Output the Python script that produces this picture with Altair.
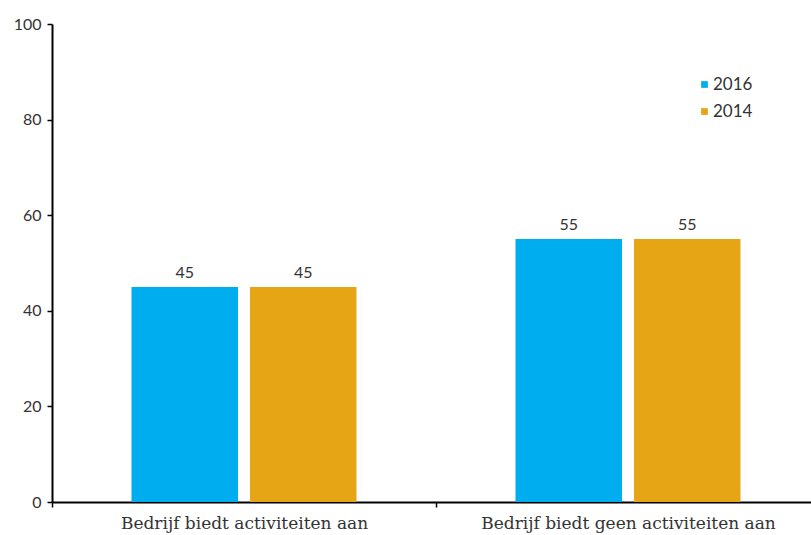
import altair as alt
import pandas as pd

categories = ["Bedrijf biedt activiteiten aan", "Bedrijf biedt geen activiteiten aan"]
years = ["2016", "2014"]
values_2016 = [45, 55]
values_2014 = [45, 55]

rows = []
for i, cat in enumerate(categories):
    rows.append({"categorie": cat, "jaar": "2016", "waarde": values_2016[i]})
    rows.append({"categorie": cat, "jaar": "2014", "waarde": values_2014[i]})
df = pd.DataFrame(rows)

colors = ["#00AEEF", "#E6A514"]

x = alt.X(
    "categorie:N",
    sort=categories,
    title=None,
    scale=alt.Scale(range=[0, 768], paddingInner=0, paddingOuter=0),
    axis=alt.Axis(
        labelAngle=0,
        labelFont="DejaVu Serif",
        labelFontSize=17,
        labelLimit=0,
        labelColor="#333333",
        labelPadding=8,
        domainColor="#000000",
        domainWidth=2,
        tickColor="#000000",
        tickWidth=1.5,
        tickSize=5,
        tickBand="extent",
    ),
)
xoff = alt.XOffset(
    "jaar:N", sort=years, scale=alt.Scale(paddingInner=0.1013, paddingOuter=0.671)
)
y = alt.Y(
    "waarde:Q",
    title=None,
    scale=alt.Scale(domain=[0, 100]),
    axis=alt.Axis(
        values=[0, 20, 40, 60, 80, 100],
        grid=False,
        labelFont="Lato",
        labelFontSize=16,
        labelColor="#333333",
        labelPadding=6,
        domainColor="#000000",
        domainWidth=2,
        tickColor="#000000",
        tickWidth=1.5,
        tickSize=5,
    ),
)

bars = alt.Chart(df).mark_bar().encode(
    x=x,
    xOffset=xoff,
    y=y,
    color=alt.Color(
        "jaar:N",
        sort=years,
        scale=alt.Scale(domain=years, range=colors),
        legend=alt.Legend(
            title=None,
            orient="none",
            legendX=644,
            legendY=52,
            symbolType="square",
            symbolSize=45,
            labelFont="Lato",
            labelFontSize=17,
            labelColor="#333333",
            rowPadding=9,
            symbolOffset=0,
            labelOffset=0,
        ),
    ),
)

labels = alt.Chart(df).mark_text(
    dy=-14, font="Lato", fontSize=16, color="#333333"
).encode(
    x=alt.X("categorie:N", sort=categories),
    xOffset=alt.XOffset("jaar:N", sort=years),
    y="waarde:Q",
    text="waarde:Q",
)

chart = (
    alt.layer(bars, labels)
    .properties(
        width=759,
        height=478,
        background="#ffffff",
        autosize=alt.AutoSizeParams(type="none"),
        padding={"left": 52, "top": 24, "right": 0, "bottom": 33},
    )
    .configure_view(stroke=None, strokeWidth=0)
)

chart.save("out.html", embed_options={"renderer": "svg", "actions": False})
